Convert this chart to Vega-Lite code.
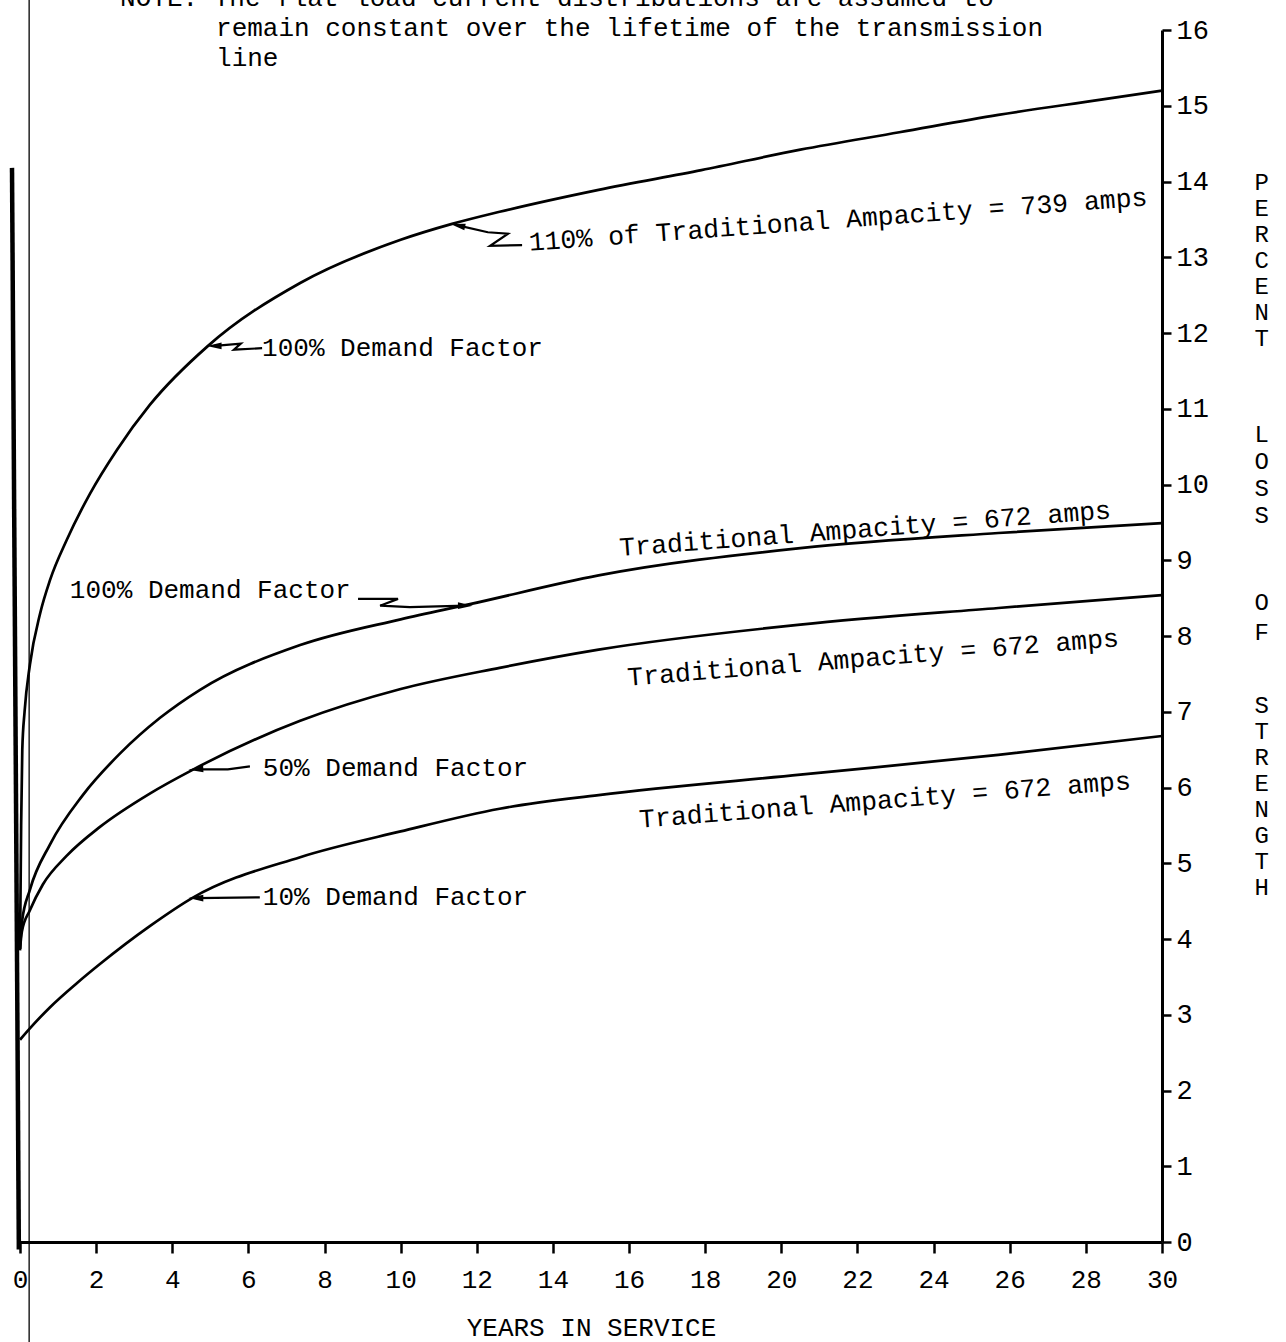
{
  "$schema": "https://vega.github.io/schema/vega-lite/v6.json",
  "width": 1142,
  "height": 1212,
  "autosize": {"type": "none"},
  "padding": {"left": 20, "top": 30, "right": 124, "bottom": 100},
  "background": "white",
  "config": {"view": {"stroke": null}, "font": "Liberation Mono", "text": {"font": "Liberation Mono", "color": "black"}},
  "datasets": {
    "curves": [
      {"curve": "110% DF 100", "years": 0, "loss": 3.85},
      {"curve": "110% DF 100", "years": 0.03, "loss": 5.5},
      {"curve": "110% DF 100", "years": 0.06, "loss": 6.5},
      {"curve": "110% DF 100", "years": 0.12, "loss": 7.0},
      {"curve": "110% DF 100", "years": 0.26, "loss": 7.62},
      {"curve": "110% DF 100", "years": 0.53, "loss": 8.3},
      {"curve": "110% DF 100", "years": 0.79, "loss": 8.74},
      {"curve": "110% DF 100", "years": 1.23, "loss": 9.27},
      {"curve": "110% DF 100", "years": 1.84, "loss": 9.88},
      {"curve": "110% DF 100", "years": 2.55, "loss": 10.46},
      {"curve": "110% DF 100", "years": 3.41, "loss": 11.05},
      {"curve": "110% DF 100", "years": 4.94, "loss": 11.83},
      {"curve": "110% DF 100", "years": 7.36, "loss": 12.66},
      {"curve": "110% DF 100", "years": 10.0, "loss": 13.23},
      {"curve": "110% DF 100", "years": 11.35, "loss": 13.44},
      {"curve": "110% DF 100", "years": 12.6, "loss": 13.6},
      {"curve": "110% DF 100", "years": 15.2, "loss": 13.89},
      {"curve": "110% DF 100", "years": 17.9, "loss": 14.15},
      {"curve": "110% DF 100", "years": 20.5, "loss": 14.42},
      {"curve": "110% DF 100", "years": 23.1, "loss": 14.65},
      {"curve": "110% DF 100", "years": 25.7, "loss": 14.88},
      {"curve": "110% DF 100", "years": 28.4, "loss": 15.08},
      {"curve": "110% DF 100", "years": 30, "loss": 15.2},

      {"curve": "100% DF 100", "years": 0, "loss": 3.87},
      {"curve": "100% DF 100", "years": 0.05, "loss": 4.22},
      {"curve": "100% DF 100", "years": 0.26, "loss": 4.65},
      {"curve": "100% DF 100", "years": 0.79, "loss": 5.25},
      {"curve": "100% DF 100", "years": 1.65, "loss": 5.9},
      {"curve": "100% DF 100", "years": 2.63, "loss": 6.45},
      {"curve": "100% DF 100", "years": 3.68, "loss": 6.92},
      {"curve": "100% DF 100", "years": 4.73, "loss": 7.29},
      {"curve": "100% DF 100", "years": 7.36, "loss": 7.88},
      {"curve": "100% DF 100", "years": 10, "loss": 8.22},
      {"curve": "100% DF 100", "years": 11.82, "loss": 8.42},
      {"curve": "100% DF 100", "years": 15.2, "loss": 8.8},
      {"curve": "100% DF 100", "years": 20.5, "loss": 9.16},
      {"curve": "100% DF 100", "years": 25.7, "loss": 9.36},
      {"curve": "100% DF 100", "years": 30, "loss": 9.49},

      {"curve": "100% DF 50", "years": 0, "loss": 3.87},
      {"curve": "100% DF 50", "years": 0.05, "loss": 4.1},
      {"curve": "100% DF 50", "years": 0.26, "loss": 4.38},
      {"curve": "100% DF 50", "years": 0.6, "loss": 4.72},
      {"curve": "100% DF 50", "years": 1.23, "loss": 5.1},
      {"curve": "100% DF 50", "years": 2.1, "loss": 5.48},
      {"curve": "100% DF 50", "years": 3.41, "loss": 5.92},
      {"curve": "100% DF 50", "years": 4.52, "loss": 6.23},
      {"curve": "100% DF 50", "years": 7.36, "loss": 6.88},
      {"curve": "100% DF 50", "years": 10, "loss": 7.3},
      {"curve": "100% DF 50", "years": 12.6, "loss": 7.58},
      {"curve": "100% DF 50", "years": 15.2, "loss": 7.82},
      {"curve": "100% DF 50", "years": 20.5, "loss": 8.15},
      {"curve": "100% DF 50", "years": 25.7, "loss": 8.37},
      {"curve": "100% DF 50", "years": 30, "loss": 8.54},

      {"curve": "100% DF 10", "years": 0, "loss": 2.67},
      {"curve": "100% DF 10", "years": 0.26, "loss": 2.82},
      {"curve": "100% DF 10", "years": 0.79, "loss": 3.1},
      {"curve": "100% DF 10", "years": 1.5, "loss": 3.42},
      {"curve": "100% DF 10", "years": 2.1, "loss": 3.67},
      {"curve": "100% DF 10", "years": 3.41, "loss": 4.17},
      {"curve": "100% DF 10", "years": 4.52, "loss": 4.54},
      {"curve": "100% DF 10", "years": 7.36, "loss": 5.08},
      {"curve": "100% DF 10", "years": 10, "loss": 5.42},
      {"curve": "100% DF 10", "years": 12.6, "loss": 5.72},
      {"curve": "100% DF 10", "years": 15.2, "loss": 5.9},
      {"curve": "100% DF 10", "years": 20.5, "loss": 6.17},
      {"curve": "100% DF 10", "years": 25.7, "loss": 6.43},
      {"curve": "100% DF 10", "years": 30, "loss": 6.68}
    ],
    "arrows": [
      {"arrow": "a", "i": 0, "years": 13.19, "loss": 13.16},
      {"arrow": "a", "i": 1, "years": 12.35, "loss": 13.15},
      {"arrow": "a", "i": 2, "years": 12.82, "loss": 13.31},
      {"arrow": "a", "i": 3, "years": 12.29, "loss": 13.33},
      {"arrow": "a", "i": 4, "years": 11.5, "loss": 13.42},
      {"arrow": "b", "i": 0, "years": 6.36, "loss": 11.8},
      {"arrow": "b", "i": 1, "years": 5.62, "loss": 11.78},
      {"arrow": "b", "i": 2, "years": 5.8, "loss": 11.86},
      {"arrow": "b", "i": 3, "years": 5.35, "loss": 11.84},
      {"arrow": "b", "i": 4, "years": 5.1, "loss": 11.83},
      {"arrow": "c", "i": 0, "years": 8.88, "loss": 8.49},
      {"arrow": "c", "i": 1, "years": 9.93, "loss": 8.49},
      {"arrow": "c", "i": 2, "years": 9.46, "loss": 8.4},
      {"arrow": "c", "i": 3, "years": 10.24, "loss": 8.38},
      {"arrow": "c", "i": 4, "years": 11.7, "loss": 8.4},
      {"arrow": "d", "i": 0, "years": 6.04, "loss": 6.28},
      {"arrow": "d", "i": 1, "years": 5.46, "loss": 6.24},
      {"arrow": "d", "i": 2, "years": 4.62, "loss": 6.24},
      {"arrow": "e", "i": 0, "years": 6.3, "loss": 4.55},
      {"arrow": "e", "i": 1, "years": 4.62, "loss": 4.54}
    ],
    "one": [{}]
  },
  "layer": [
    {
      "data": {"name": "curves"},
      "mark": {"type": "line", "color": "black", "strokeWidth": 2.7, "interpolate": "monotone"},
      "encoding": {
        "x": {
          "field": "years", "type": "quantitative",
          "scale": {"domain": [0, 30], "nice": false, "zero": false},
          "axis": {
            "title": "YEARS IN SERVICE",
            "values": [0, 2, 4, 6, 8, 10, 12, 14, 16, 18, 20, 22, 24, 26, 28, 30],
            "format": "d",
            "grid": false,
            "domainColor": "black", "domainWidth": 3,
            "tickColor": "black", "tickWidth": 2.5, "tickSize": 11,
            "labelFont": "Liberation Mono", "labelFontSize": 26, "labelColor": "black",
            "labelPadding": 13, "labelFlush": false,
            "titleFont": "Liberation Mono", "titleFontSize": 26, "titleFontWeight": "normal",
            "titleColor": "black", "titlePadding": 22
          }
        },
        "y": {
          "field": "loss", "type": "quantitative",
          "scale": {"domain": [0, 16], "nice": false, "zero": false},
          "axis": {
            "orient": "right",
            "values": [0, 1, 2, 3, 4, 5, 6, 7, 8, 9, 10, 11, 12, 13, 14, 15, 16],
            "format": "d",
            "grid": false,
            "domainColor": "black", "domainWidth": 3,
            "tickColor": "black", "tickWidth": 2.5, "tickSize": 9,
            "labelFont": "Liberation Mono", "labelFontSize": 27, "labelColor": "black",
            "labelPadding": 5, "labelFlush": false,
            "title": null
          }
        },
        "detail": {"field": "curve"}
      }
    },
    {
      "data": {"values": [{"years": -0.21, "loss": 14.18}, {"years": -0.03, "loss": -0.1}]},
      "mark": {"type": "line", "color": "black", "strokeWidth": 4.5},
      "encoding": {"x": {"field": "years", "type": "quantitative"}, "y": {"field": "loss", "type": "quantitative"}}
    },
    {
      "data": {"name": "one"},
      "mark": {"type": "rule", "color": "black", "strokeWidth": 1.3},
      "encoding": {"x": {"datum": 0.24}, "y": {"datum": 16.4}, "y2": {"datum": -1.35}}
    },
    {
      "data": {"name": "arrows"},
      "mark": {"type": "line", "color": "black", "strokeWidth": 2.2},
      "encoding": {
        "x": {"field": "years", "type": "quantitative"},
        "y": {"field": "loss", "type": "quantitative"},
        "detail": {"field": "arrow"},
        "order": {"field": "i"}
      }
    },
    {
      "data": {"name": "one"},
      "mark": {"type": "point", "shape": "M -1 0 L 1 -0.45 L 1 0.45 Z", "filled": true, "color": "black", "opacity": 1, "size": 220, "angle": 12},
      "encoding": {"x": {"datum": 11.5}, "y": {"datum": 13.42}}
    },
    {
      "data": {"name": "one"},
      "mark": {"type": "point", "shape": "M -1 0 L 1 -0.45 L 1 0.45 Z", "filled": true, "color": "black", "opacity": 1, "size": 220, "angle": 0},
      "encoding": {"x": {"datum": 5.1}, "y": {"datum": 11.83}}
    },
    {
      "data": {"name": "one"},
      "mark": {"type": "point", "shape": "M -1 0 L 1 -0.45 L 1 0.45 Z", "filled": true, "color": "black", "opacity": 1, "size": 220, "angle": 180},
      "encoding": {"x": {"datum": 11.7}, "y": {"datum": 8.4}}
    },
    {
      "data": {"name": "one"},
      "mark": {"type": "point", "shape": "M -1 0 L 1 -0.45 L 1 0.45 Z", "filled": true, "color": "black", "opacity": 1, "size": 220, "angle": -3},
      "encoding": {"x": {"datum": 4.62}, "y": {"datum": 6.24}}
    },
    {
      "data": {"name": "one"},
      "mark": {"type": "point", "shape": "M -1 0 L 1 -0.45 L 1 0.45 Z", "filled": true, "color": "black", "opacity": 1, "size": 220, "angle": 0},
      "encoding": {"x": {"datum": 4.62}, "y": {"datum": 4.54}}
    },
    {
      "data": {"name": "one"},
      "mark": {"type": "text", "text": ["P", "E", "R", "C", "E", "N", "T"], "align": "center", "baseline": "top", "fontSize": 24, "lineHeight": 26},
      "encoding": {"x": {"datum": 32.62}, "y": {"datum": 14.14}}
    },
    {
      "data": {"name": "one"},
      "mark": {"type": "text", "text": ["L", "O", "S", "S"], "align": "center", "baseline": "top", "fontSize": 24, "lineHeight": 27},
      "encoding": {"x": {"datum": 32.62}, "y": {"datum": 10.81}}
    },
    {
      "data": {"name": "one"},
      "mark": {"type": "text", "text": ["O", "F"], "align": "center", "baseline": "top", "fontSize": 24, "lineHeight": 30},
      "encoding": {"x": {"datum": 32.62}, "y": {"datum": 8.59}}
    },
    {
      "data": {"name": "one"},
      "mark": {"type": "text", "text": ["S", "T", "R", "E", "N", "G", "T", "H"], "align": "center", "baseline": "top", "fontSize": 24, "lineHeight": 26},
      "encoding": {"x": {"datum": 32.62}, "y": {"datum": 7.23}}
    },
    {
      "data": {"name": "one"},
      "mark": {"type": "text", "text": "NOTE: The flat load current distributions are assumed to", "align": "left", "baseline": "alphabetic", "fontSize": 26},
      "encoding": {"x": {"datum": 2.63}, "y": {"datum": 16.32}}
    },
    {
      "data": {"name": "one"},
      "mark": {"type": "text", "text": "remain constant over the lifetime of the transmission", "align": "left", "baseline": "alphabetic", "fontSize": 26},
      "encoding": {"x": {"datum": 5.15}, "y": {"datum": 15.92}}
    },
    {
      "data": {"name": "one"},
      "mark": {"type": "text", "text": "line", "align": "left", "baseline": "alphabetic", "fontSize": 26},
      "encoding": {"x": {"datum": 5.15}, "y": {"datum": 15.52}}
    },
    {
      "data": {"name": "one"},
      "mark": {"type": "text", "text": "110% of Traditional Ampacity = 739 amps", "align": "center", "baseline": "middle", "fontSize": 26.5, "angle": -4.2},
      "encoding": {"x": {"datum": 21.49}, "y": {"datum": 13.49}}
    },
    {
      "data": {"name": "one"},
      "mark": {"type": "text", "text": "100% Demand Factor", "align": "left", "baseline": "middle", "fontSize": 26},
      "encoding": {"x": {"datum": 6.36}, "y": {"datum": 11.8}}
    },
    {
      "data": {"name": "one"},
      "mark": {"type": "text", "text": "Traditional Ampacity = 672 amps", "align": "center", "baseline": "middle", "fontSize": 26.5, "angle": -4.4},
      "encoding": {"x": {"datum": 22.2}, "y": {"datum": 9.41}}
    },
    {
      "data": {"name": "one"},
      "mark": {"type": "text", "text": "100% Demand Factor", "align": "left", "baseline": "middle", "fontSize": 26},
      "encoding": {"x": {"datum": 1.31}, "y": {"datum": 8.61}}
    },
    {
      "data": {"name": "one"},
      "mark": {"type": "text", "text": "Traditional Ampacity = 672 amps", "align": "center", "baseline": "middle", "fontSize": 26.5, "angle": -4.6},
      "encoding": {"x": {"datum": 22.41}, "y": {"datum": 7.71}}
    },
    {
      "data": {"name": "one"},
      "mark": {"type": "text", "text": "50% Demand Factor", "align": "left", "baseline": "middle", "fontSize": 26},
      "encoding": {"x": {"datum": 6.38}, "y": {"datum": 6.26}}
    },
    {
      "data": {"name": "one"},
      "mark": {"type": "text", "text": "Traditional Ampacity = 672 amps", "align": "center", "baseline": "middle", "fontSize": 26.5, "angle": -4.5},
      "encoding": {"x": {"datum": 22.72}, "y": {"datum": 5.83}}
    },
    {
      "data": {"name": "one"},
      "mark": {"type": "text", "text": "10% Demand Factor", "align": "left", "baseline": "middle", "fontSize": 26},
      "encoding": {"x": {"datum": 6.38}, "y": {"datum": 4.55}}
    }
  ]
}
